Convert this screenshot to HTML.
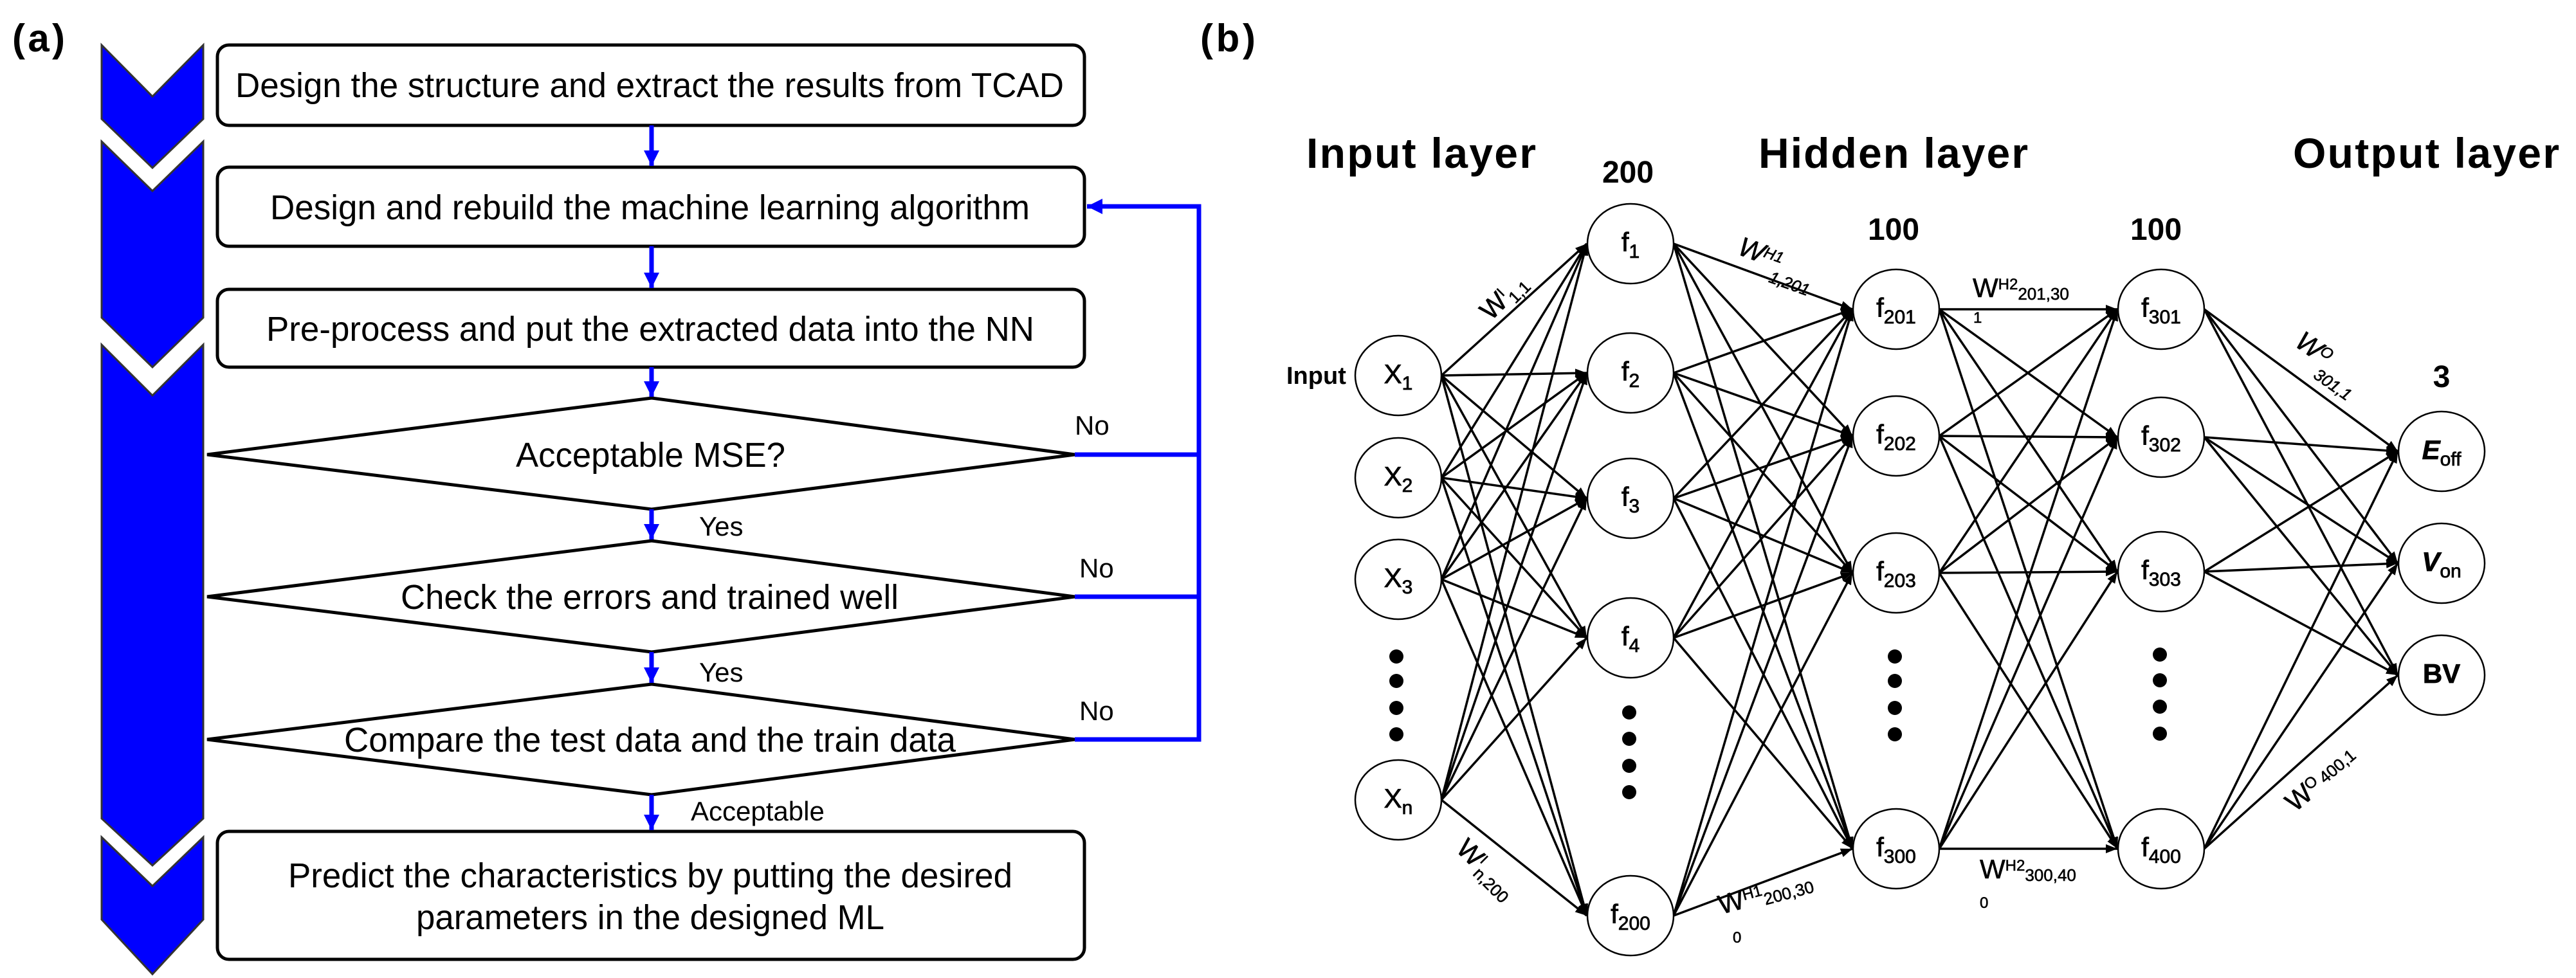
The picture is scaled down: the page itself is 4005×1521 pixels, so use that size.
<!DOCTYPE html>
<html><head><meta charset="utf-8"><style>
html,body{margin:0;padding:0;background:#fff;}
svg{display:block;}
text{font-family:"Liberation Sans",Arial,sans-serif;}
</style></head><body>
<svg id="s" xmlns="http://www.w3.org/2000/svg" width="4005" height="1521" viewBox="0 0 4005 1521">
<defs>
<marker id="ab" markerUnits="userSpaceOnUse" markerWidth="30" markerHeight="30" refX="24" refY="12" orient="auto"><path d="M0,0 L24,12 L0,24 Z" fill="#0000ff"/></marker>
<marker id="ak" markerUnits="userSpaceOnUse" markerWidth="24" markerHeight="20" refX="18" refY="7" orient="auto"><path d="M0,0 L18,7 L0,14 Z" fill="#000"/></marker>
</defs>
<rect width="4005" height="1521" fill="#fff"/>
<text x="19" y="80" font-size="60" font-weight="bold" textLength="82">(a)</text>
<text x="1866" y="80" font-size="60" font-weight="bold" textLength="86">(b)</text>
<g fill="#0000ff" stroke="#333" stroke-width="3">
<polygon points="158,70 237,150 316,70 316,185 237,261 158,185"/>
<polygon points="158,220 237,297 316,220 316,494 237,571 158,494"/>
<polygon points="158,536 237,615 316,536 316,1273 237,1346 158,1273"/>
<polygon points="158,1302 237,1378 316,1302 316,1430 237,1515 158,1430"/>
</g>
<g fill="#fff" stroke="#000" stroke-width="5">
<rect x="338" y="70" width="1348" height="125" rx="18"/>
<rect x="338" y="260" width="1348" height="123" rx="18"/>
<rect x="338" y="450" width="1348" height="121" rx="18"/>
<rect x="338" y="1293" width="1348" height="199" rx="18"/>
<polygon points="322,707 1013,619 1671,707 1013,792"/>
<polygon points="322,928 1013,841 1671,928 1013,1014"/>
<polygon points="322,1150 1013,1064 1671,1150 1013,1236"/>
</g>
<g font-size="54" fill="#000">
<text x="366" y="151" textLength="1288" lengthAdjust="spacingAndGlyphs">Design the structure and extract the results from TCAD</text>
<text x="420" y="341" textLength="1181" lengthAdjust="spacingAndGlyphs">Design and rebuild the machine learning algorithm</text>
<text x="414" y="530" textLength="1194" lengthAdjust="spacingAndGlyphs">Pre-process and put the extracted data into the NN</text>
<text x="802" y="726" textLength="419" lengthAdjust="spacingAndGlyphs">Acceptable MSE?</text>
<text x="623" y="947" textLength="774" lengthAdjust="spacingAndGlyphs">Check the errors and trained well</text>
<text x="535" y="1169" textLength="951" lengthAdjust="spacingAndGlyphs">Compare the test data and the train data</text>
<text x="448" y="1380" textLength="1126" lengthAdjust="spacingAndGlyphs">Predict the characteristics by putting the desired</text>
<text x="647" y="1445" textLength="728" lengthAdjust="spacingAndGlyphs">parameters in the designed ML</text>
</g>
<g font-size="42" fill="#000">
<text x="1671" y="676">No</text>
<text x="1678" y="898">No</text>
<text x="1678" y="1120">No</text>
<text x="1087" y="833">Yes</text>
<text x="1087" y="1060">Yes</text>
<text x="1074" y="1276">Acceptable</text>
</g>
<g stroke="#0000ff" stroke-width="7" fill="none">
<line x1="1013" y1="195" x2="1013" y2="258" marker-end="url(#ab)"/>
<line x1="1013" y1="383" x2="1013" y2="448" marker-end="url(#ab)"/>
<line x1="1013" y1="571" x2="1013" y2="617" marker-end="url(#ab)"/>
<line x1="1013" y1="792" x2="1013" y2="839" marker-end="url(#ab)"/>
<line x1="1013" y1="1014" x2="1013" y2="1062" marker-end="url(#ab)"/>
<line x1="1013" y1="1236" x2="1013" y2="1291" marker-end="url(#ab)"/>
<polyline points="1671,707 1864,707"/>
<polyline points="1671,928 1864,928"/>
<polyline points="1671,1150 1864,1150 1864,321 1690,321" marker-end="url(#ab)"/>
</g>
<g id="edges" stroke="#000" stroke-width="3.5"></g>
<g id="nodes" fill="#fff" stroke="#000" stroke-width="2.5"></g>
<g fill="#000">
<circle cx="2171" cy="1021" r="11"/><circle cx="2171" cy="1059" r="11"/><circle cx="2171" cy="1101" r="11"/><circle cx="2171" cy="1142" r="11"/>
<circle cx="2533" cy="1108" r="11"/><circle cx="2533" cy="1149" r="11"/><circle cx="2533" cy="1191" r="11"/><circle cx="2533" cy="1232" r="11"/>
<circle cx="2946" cy="1021" r="11"/><circle cx="2946" cy="1059" r="11"/><circle cx="2946" cy="1101" r="11"/><circle cx="2946" cy="1142" r="11"/>
<circle cx="3358" cy="1018" r="11"/><circle cx="3358" cy="1058" r="11"/><circle cx="3358" cy="1099" r="11"/><circle cx="3358" cy="1141" r="11"/>
</g>
<g font-weight="bold" fill="#000">
<text x="2031" y="261" font-size="66" textLength="357">Input layer</text>
<text x="2734" y="261" font-size="66" textLength="419">Hidden layer</text>
<text x="3565" y="261" font-size="66" textLength="414">Output layer</text>
<text x="2531" y="284" font-size="48" text-anchor="middle">200</text>
<text x="2944" y="373" font-size="48" text-anchor="middle">100</text>
<text x="3352" y="373" font-size="48" text-anchor="middle">100</text>
<text x="3796" y="602" font-size="48" text-anchor="middle">3</text>
<text x="2000" y="597" font-size="38">Input</text>
</g>
<g id="labels" fill="#000" font-size="42" text-anchor="middle" stroke="#000" stroke-width="0.8"></g>
<g fill="#000" font-size="42" stroke="#000" stroke-width="0.6">
<text transform="translate(2318,500) rotate(-45)">W<tspan font-size="22" dy="-14">I</tspan><tspan font-size="26" dy="22">1,1</tspan></text>
<text transform="translate(2262,1322) rotate(45)">W<tspan font-size="22" dy="-14">I</tspan><tspan font-size="26" dy="22">n,200</tspan></text>
<text transform="translate(2700,395) rotate(20)" font-style="italic">W<tspan font-size="24" dy="-10">H1</tspan><tspan font-size="26" dx="-10" dy="34">1,201</tspan></text>
<text x="3067" y="462">W<tspan font-size="24" dy="-12">H2</tspan><tspan font-size="26" dy="16">201,30</tspan></text>
<text x="3068" y="502" font-size="24">1</text>
<text transform="translate(2676,1422) rotate(-15)">W<tspan font-size="24" dy="-12">H1</tspan><tspan font-size="26" dy="16">200,30</tspan></text>
<text x="2694" y="1466" font-size="24">0</text>
<text x="3078" y="1366">W<tspan font-size="24" dy="-12">H2</tspan><tspan font-size="26" dy="16">300,40</tspan></text>
<text x="3078" y="1412" font-size="24">0</text>
<text transform="translate(3566,537) rotate(35)" font-style="italic">W<tspan font-size="24" dy="-12">O</tspan><tspan font-size="26" dx="-6" dy="36">301,1</tspan></text>
<text transform="translate(3568,1264) rotate(-40)">W<tspan font-size="24" dy="-12">O</tspan><tspan font-size="26" dx="6" dy="8">400,1</tspan></text>
</g>
</svg>
<script>
(function(){
var NS="http://www.w3.org/2000/svg";
var RX=67,RY=62;
var L=[
 {x:2174,ys:[584,743,901,1244],lab:["X|1","X|2","X|3","X|n"]},
 {x:2535,ys:[379,580,775,992,1424],lab:["f|1","f|2","f|3","f|4","f|200"]},
 {x:2948,ys:[481,678,891,1320],lab:["f|201","f|202","f|203","f|300"]},
 {x:3360,ys:[481,680,889,1320],lab:["f|301","f|302","f|303","f|400"]},
 {x:3796,ys:[702,876,1050],lab:["E|off","V|on","BV|"],it:true}
];
var E=document.getElementById("edges"),N=document.getElementById("nodes"),T=document.getElementById("labels");
for(var i=0;i<L.length-1;i++){var a=L[i],b=L[i+1];
 for(var p=0;p<a.ys.length;p++)for(var q=0;q<b.ys.length;q++){
  var l=document.createElementNS(NS,"line");
  l.setAttribute("x1",a.x+RX);l.setAttribute("y1",a.ys[p]);
  l.setAttribute("x2",b.x-RX-1);l.setAttribute("y2",b.ys[q]);
  l.setAttribute("marker-end","url(#ak)");E.appendChild(l);}}
L.forEach(function(c){c.ys.forEach(function(y,k){
 var e=document.createElementNS(NS,"ellipse");e.setAttribute("cx",c.x);e.setAttribute("cy",y);
 e.setAttribute("rx",RX);e.setAttribute("ry",RY);N.appendChild(e);
 var parts=c.lab[k].split("|");
 var t=document.createElementNS(NS,"text");t.setAttribute("x",c.x);t.setAttribute("y",y+12);
 var s1=document.createElementNS(NS,"tspan");s1.textContent=parts[0];
 if(c.it&&parts[0]!=="BV"){s1.setAttribute("font-style","italic");s1.setAttribute("font-weight","bold");}
 if(parts[0]==="BV")t.setAttribute("font-weight","bold");
 t.appendChild(s1);
 if(parts[1]){var s2=document.createElementNS(NS,"tspan");s2.textContent=parts[1];s2.setAttribute("font-size","30");s2.setAttribute("dy","10");t.appendChild(s2);}
 T.appendChild(t);
});});
})();
</script>
</body></html>
